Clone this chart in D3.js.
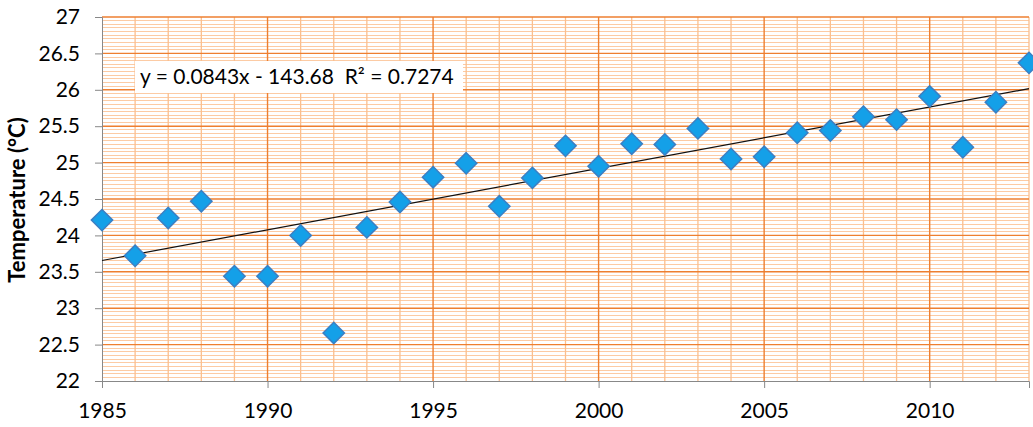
<!DOCTYPE html>
<html>
<head>
<meta charset="utf-8">
<script src="https://cdn.jsdelivr.net/npm/d3@7"></script>
<style>
  body { margin: 0; background: #fff; }
  svg { display: block; }
</style>
</head>
<body>
<svg width="1033" height="427"></svg>
<script>
// data
const years = [1985, 1986, 1987, 1988, 1989, 1990, 1991, 1992, 1993, 1994,
               1995, 1996, 1997, 1998, 1999, 2000, 2001, 2002, 2003, 2004,
               2005, 2006, 2007, 2008, 2009, 2010, 2011, 2012, 2013];
const temps = [24.21, 23.72, 24.24, 24.47, 23.44, 23.44, 24.0, 22.66, 24.11, 24.46,
               24.80, 24.99, 24.40, 24.79, 25.23, 24.95, 25.26, 25.25, 25.47, 25.05,
               25.08, 25.41, 25.44, 25.63, 25.59, 25.91, 25.21, 25.83, 26.37];
const xTicks = [1985, 1990, 1995, 2000, 2005, 2010];
const yTicks = [22, 22.5, 23, 23.5, 24, 24.5, 25, 25.5, 26, 26.5, 27];
const trendSlope = 0.0843;
const trendIntercept = -143.68;
const trendLabel = "y = 0.0843x - 143.68\u00a0\u00a0R² = 0.7274";

const svg = d3.select("svg");
const margin = { left: 102, right: 4, top: 17, bottom: 46 };
const W = 1033, H = 427;

const x = d3.scaleLinear().domain([1985, 2013]).range([margin.left, W - margin.right]);
const y = d3.scaleLinear().domain([22, 27]).range([H - margin.bottom, margin.top]);

const font = "Lato, 'Open Sans', sans-serif";
const grid = svg.append("g");

// minor horizontal lines every 0.05
const yMinor = d3.range(0, 101).map(i => 22 + i * 0.05).filter(v => Math.abs((v * 2) - Math.round(v * 2)) > 1e-6);
grid.append("g").attr("shape-rendering", "crispEdges")
  .selectAll("line").data(yMinor).join("line")
    .attr("x1", x(1985)).attr("x2", x(2013))
    .attr("y1", d => y(d)).attr("y2", d => y(d))
    .attr("stroke", "#fccba4").attr("stroke-width", 1);

// minor vertical every year
grid.append("g").selectAll("line").data(d3.range(1986, 2014).filter(v => v % 5 !== 0)).join("line")
    .attr("y1", y(22)).attr("y2", y(27))
    .attr("x1", d => x(d)).attr("x2", d => x(d))
    .attr("stroke", "#fbbf8e").attr("stroke-width", 1.3);

// major lines
grid.append("g").selectAll("line").data(yTicks.slice(1)).join("line")
    .attr("x1", x(1985)).attr("x2", x(2013))
    .attr("y1", d => y(d)).attr("y2", d => y(d))
    .attr("stroke", "#ee7f30").attr("stroke-width", 1.4);
grid.append("g").selectAll("line").data(xTicks.slice(1)).join("line")
    .attr("y1", y(22)).attr("y2", y(27))
    .attr("x1", d => x(d)).attr("x2", d => x(d))
    .attr("stroke", "#ee7f30").attr("stroke-width", 1.4);

// axes
const yAxis = d3.axisLeft(y).tickValues(yTicks).tickSize(7).tickPadding(15).tickFormat(d3.format("~g"));
const gy = svg.append("g").attr("transform", `translate(${margin.left},0)`).call(yAxis);
const xAxis = d3.axisBottom(x).tickValues(xTicks).tickSize(7).tickPadding(15).tickFormat(d3.format("d"));
const gx = svg.append("g").attr("transform", `translate(0,${y(22)})`).call(xAxis);
[gx, gy].forEach(g => {
  g.select(".domain").attr("stroke", "#888");
  g.selectAll(".tick line").attr("stroke", "#888");
  g.selectAll("text").attr("font-family", font).attr("font-size", 21).attr("fill", "#000");
});

svg.append("text")
    .attr("transform", `translate(25,${(y(22) + y(27)) / 2 + 1}) rotate(-90)`)
    .attr("text-anchor", "middle")
    .attr("font-family", font).attr("font-weight", "bold").attr("font-size", 22)
    .text("Temperature (°C)");

// trendline
svg.append("line")
    .attr("x1", x(1985)).attr("y1", y(trendSlope * 1985 + trendIntercept))
    .attr("x2", x(2013)).attr("y2", y(trendSlope * 2013 + trendIntercept))
    .attr("stroke", "#111").attr("stroke-width", 1.2);

// markers
const pts = years.map((yr, i) => ({ yr, t: temps[i] }));
svg.selectAll(".pt").data(pts).join("path")
    .attr("d", d3.symbol(d3.symbolDiamond2, 290)())
    .attr("transform", d => `translate(${x(d.yr)},${y(d.t)})`)
    .attr("fill", "#14a0e8").attr("stroke", "#3b7fc4").attr("stroke-width", 1.5);

// equation label
const lab = svg.append("g");
lab.append("rect").attr("x", 135).attr("y", 61).attr("width", 328).attr("height", 32).attr("fill", "#fff");
lab.append("text").attr("x", 140).attr("y", 84)
    .attr("font-family", font).attr("font-size", 21).attr("fill", "#000")
    .text(trendLabel);
</script>
</body>
</html>
